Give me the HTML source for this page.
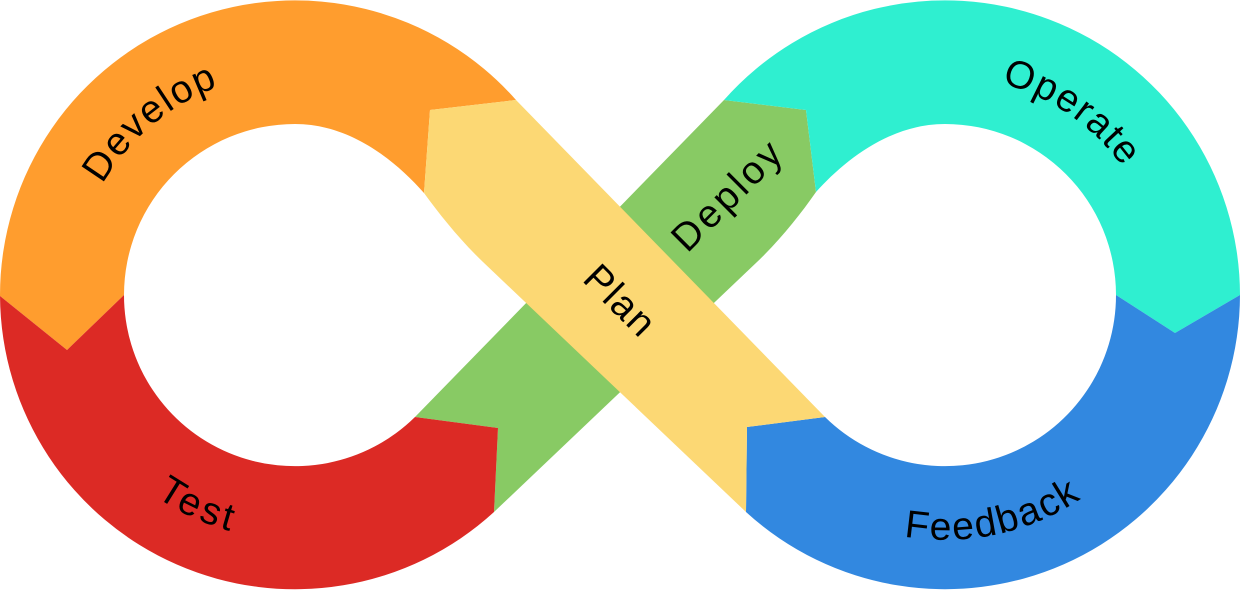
<!DOCTYPE html>
<html><head><meta charset="utf-8"><style>
html,body{margin:0;padding:0;background:#fff;width:1240px;height:590px;overflow:hidden}
svg{display:block}
text{font-family:"Liberation Sans",sans-serif;font-size:39px;fill:#000}
</style></head><body>
<svg width="1240" height="590" viewBox="0 0 1240 590" xmlns="http://www.w3.org/2000/svg">
<defs>
<path id="a1" d="M73 295A222 222 0 0 1 517 295"/>
<path id="a2" d="M726 295A219 219 0 0 1 1164 295"/>
<path id="a3" d="M50 295A245 245 0 0 0 540 295"/>
<path id="a4" d="M700 295A245 245 0 0 0 1190 295"/>
</defs>
<path fill="#88CA64" d="M724 100L806 110L816 192C800 215 780 240 757 262L494 512L498 428L415 417Z"/>
<path fill="#FF9D2E" d="M0 296A295 295 0 0 1 516 100L430 110L424 193C395 160 350 124 295 124A171 171 0 0 0 124 295L67 350Z"/>
<path fill="#DC2A25" d="M0 296L67 350L124 295A171 171 0 0 0 415 417L498 428L494 512A295 295 0 0 1 0 296Z"/>
<path fill="#2FEFD0" d="M724 100A295 295 0 0 1 1240 295L1175 333L1116 295A171 171 0 0 0 945 124C890 124 845 160 816 192L806 110Z"/>
<path fill="#3288E0" d="M825 417A171 171 0 0 0 1116 295L1175 333L1240 295A295 295 0 0 1 746 512L747 427Z"/>
<path fill="#FCD874" d="M516 100L825 417L747 427L746 512L483 262C460 240 440 215 424 193L430 110Z"/>
<text text-anchor="middle" letter-spacing="1.8"><textPath href="#a1" startOffset="27.8%">Develop</textPath></text>
<text text-anchor="middle" letter-spacing="1.5"><textPath href="#a2" startOffset="69.3%">Operate</textPath></text>
<text text-anchor="middle" letter-spacing="3.5"><textPath href="#a3" startOffset="36.3%">Test</textPath></text>
<text text-anchor="middle" letter-spacing="2"><textPath href="#a4" startOffset="56.8%">Feedback</textPath></text>
<text text-anchor="middle" letter-spacing="3.2" transform="translate(737,204) rotate(-45)">Deploy</text>
<text text-anchor="middle" letter-spacing="1.5" transform="translate(611,310) rotate(45)">Plan</text>
</svg>
</body></html>
